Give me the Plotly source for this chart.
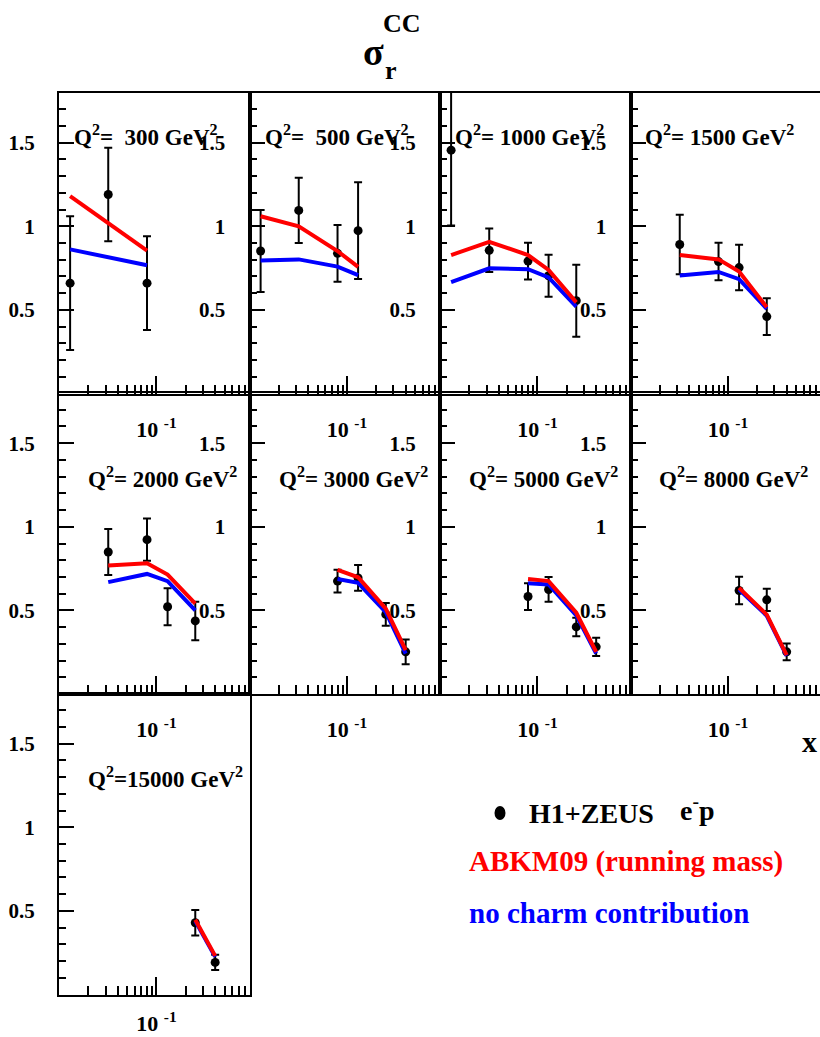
import math
import plotly.graph_objects as go

# ---------------- data ----------------
q2_values = [300, 500, 1000, 1500, 2000, 3000, 5000, 8000, 15000]
q2_labels = ["\u00a0\u00a0300", "\u00a0\u00a0500", "\u00a01000", "\u00a01500",
             "\u00a02000", "\u00a03000", "\u00a05000", "\u00a08000", "15000"]

x_points = [
    [0.013, 0.032, 0.08],
    [0.013, 0.032, 0.08, 0.13],
    [0.013, 0.032, 0.08, 0.13, 0.25],
    [0.032, 0.08, 0.13, 0.25],
    [0.032, 0.08, 0.13, 0.25],
    [0.08, 0.13, 0.25, 0.4],
    [0.08, 0.13, 0.25, 0.4],
    [0.13, 0.25, 0.4],
    [0.25, 0.4],
]
sigma_data = [
    [0.66, 1.19, 0.66],
    [0.852, 1.095, 0.838, 0.974],
    [1.455, 0.856, 0.792, 0.704, 0.555],
    [0.891, 0.789, 0.753, 0.46],
    [0.849, 0.923, 0.522, 0.437],
    [0.675, 0.694, 0.476, 0.252],
    [0.583, 0.625, 0.401, 0.282],
    [0.619, 0.563, 0.252],
    [0.429, 0.192],
]
sigma_err = [
    [0.40, 0.28, 0.28],
    [0.245, 0.195, 0.17, 0.29],
    [0.45, 0.13, 0.11, 0.125, 0.215],
    [0.178, 0.112, 0.136, 0.11],
    [0.137, 0.126, 0.111, 0.115],
    [0.068, 0.077, 0.068, 0.074],
    [0.08, 0.074, 0.055, 0.055],
    [0.082, 0.067, 0.05],
    [0.076, 0.045],
]
abkm09 = [
    [1.18, 1.02, 0.855],
    [1.06, 1.0, 0.852, 0.757],
    [0.828, 0.907, 0.828, 0.739, 0.545],
    [0.828, 0.802, 0.729, 0.516],
    [0.768, 0.782, 0.714, 0.54],
    [0.742, 0.698, 0.51, 0.262],
    [0.688, 0.675, 0.486, 0.252],
    [0.635, 0.474, 0.232],
    [0.447, 0.231],
]
no_charm = [
    [0.862, 0.815, 0.767],
    [0.796, 0.802, 0.759, 0.708],
    [0.666, 0.749, 0.743, 0.694, 0.52],
    [0.706, 0.727, 0.684, 0.506],
    [0.669, 0.718, 0.675, 0.50],
    [0.688, 0.665, 0.49, 0.242],
    [0.663, 0.655, 0.47, 0.242],
    [0.625, 0.468, 0.228],
    [0.44, 0.225],
]

y_tick_vals = [0.5, 1.0, 1.5]
y_tick_text = ["0.5", "1", "1.5"]
x_tick_vals = [0.1]
x_tick_text = ["10\u00a0<sup>-1</sup>"]
x_minor_vals = [0.02, 0.03, 0.04, 0.05, 0.06, 0.07, 0.08, 0.09,
                0.2, 0.3, 0.4, 0.5, 0.6, 0.7, 0.8, 0.9]
x_range = [0.01, 0.9]
y_range = [0.0, 1.8]

# ---------------- layout geometry ----------------
W, H = 820, 1037
COL_LEFT = [59, 249.5, 440, 630.5]
PANEL_W = 190.5
ROW_TOP = [92.5, 393, 693.5]
PANEL_H = 301
FONT = "Liberation Serif"

fig = go.Figure()
layout = dict(
    width=W, height=H, autosize=False,
    margin=dict(l=0, r=0, t=0, b=0),
    paper_bgcolor="white", plot_bgcolor="rgba(0,0,0,0)",
    showlegend=False,
)
annotations = []

lx0, lx1 = math.log10(x_range[0]), math.log10(x_range[1])

for i, q2 in enumerate(q2_values):
    r, c = divmod(i, 4)
    left = COL_LEFT[c]
    right = min(left + PANEL_W, W)
    top = ROW_TOP[r]
    bot = top + PANEL_H
    n = i + 1
    xn = "x" if n == 1 else f"x{n}"
    yn = "y" if n == 1 else f"y{n}"
    xk = "xaxis" if n == 1 else f"xaxis{n}"
    yk = "yaxis" if n == 1 else f"yaxis{n}"
    hi = lx0 + (right - left) / PANEL_W * (lx1 - lx0)

    layout[xk] = dict(
        type="log", domain=[left / W, right / W], range=[lx0, hi], anchor=yn,
        showline=True, linecolor="black", linewidth=2, mirror=True,
        ticks="inside", ticklen=18, tickwidth=1.5, tickcolor="black",
        tickmode="array", tickvals=x_tick_vals, ticktext=x_tick_text,
        tickfont=dict(family=FONT, size=22, color="black", weight="bold"),
        ticklabelstandoff=15 if r < 2 else 8,
        showgrid=False, zeroline=False, fixedrange=True,
        minor=dict(tickmode="array", tickvals=x_minor_vals, ticks="inside",
                   ticklen=9, tickwidth=1.5, tickcolor="black", showgrid=False),
    )
    layout[yk] = dict(
        domain=[1 - bot / H, 1 - top / H], range=y_range, anchor=xn,
        showline=True, linecolor="black", linewidth=2, mirror=(c != 3),
        ticks="inside", ticklen=15, tickwidth=1.5, tickcolor="black",
        tickmode="array", tickvals=y_tick_vals, ticktext=y_tick_text,
        tickfont=dict(family=FONT, size=21, color="black", weight="bold"),
        ticklabelstandoff=18,
        showgrid=False, zeroline=False, fixedrange=True,
        minor=dict(tickmode="linear", tick0=0, dtick=0.1, ticks="inside",
                   ticklen=7, tickwidth=1.5, tickcolor="black", showgrid=False),
    )

    fig.add_trace(go.Scatter(
        x=x_points[i], y=sigma_data[i], mode="markers", xaxis=xn, yaxis=yn,
        marker=dict(symbol="circle", size=9, color="black"),
        error_y=dict(type="data", array=sigma_err[i], visible=True,
                     color="black", thickness=2, width=4),
    ))
    fig.add_trace(go.Scatter(
        x=x_points[i], y=no_charm[i], mode="lines", xaxis=xn, yaxis=yn,
        line=dict(color="#0000ff", width=4),
    ))
    fig.add_trace(go.Scatter(
        x=x_points[i], y=abkm09[i], mode="lines", xaxis=xn, yaxis=yn,
        line=dict(color="#ff0000", width=4),
    ))

    if r == 0:
        ox, oy = 13, 43
    else:
        ox, oy = 27, 84
    annotations.append(dict(
        xref=f"{xn} domain", yref=f"{yn} domain",
        x=ox / PANEL_W, y=1 - oy / PANEL_H, xanchor="left", yanchor="middle",
        text=f"Q<sup>2</sup>={q2_labels[i]} GeV<sup>2</sup>", showarrow=False,
        font=dict(family=FONT, size=23, color="black", weight="bold"),
    ))


def paper(px, py):
    return px / W, 1 - py / H


# title sigma_r^CC
for txt, px, py, size in [("\u03c3", 373, 52, 38), ("r", 391, 70, 26), ("CC", 402, 23, 26)]:
    xx, yy = paper(px, py)
    annotations.append(dict(
        xref="paper", yref="paper", x=xx, y=yy, xanchor="center", yanchor="middle",
        text=txt, showarrow=False,
        font=dict(family=FONT, size=size, color="black", weight="bold"),
    ))

# x axis title
xx, yy = paper(819, 741)
annotations.append(dict(
    xref="paper", yref="paper", x=xx, y=yy, xanchor="right", yanchor="middle",
    text="x", showarrow=False,
    font=dict(family=FONT, size=30, color="black", weight="bold"),
))

# legend
legend_items = [
    ("H1+ZEUS", "black", 527, 813, 28),
    ("e<sup>-</sup>p", "black", 678, 808, 28),
    ("ABKM09 (running mass)", "#ff0000", 467, 861, 29),
    ("no charm contribution", "#0000ff", 467, 913, 29),
]
for txt, col, px, py, size in legend_items:
    xx, yy = paper(px, py)
    annotations.append(dict(
        xref="paper", yref="paper", x=xx, y=yy, xanchor="left", yanchor="middle",
        text=txt, showarrow=False,
        font=dict(family=FONT, size=size, color=col, weight="bold"),
    ))

cx0, cy0 = paper(494.5, 806)
cx1, cy1 = paper(505.5, 820)
layout["shapes"] = [dict(type="circle", xref="paper", yref="paper",
                         x0=cx0, x1=cx1, y0=cy1, y1=cy0,
                         fillcolor="black", line=dict(color="black", width=0))]
layout["annotations"] = annotations

fig.update_layout(**layout)
fig.write_html("out.html")
